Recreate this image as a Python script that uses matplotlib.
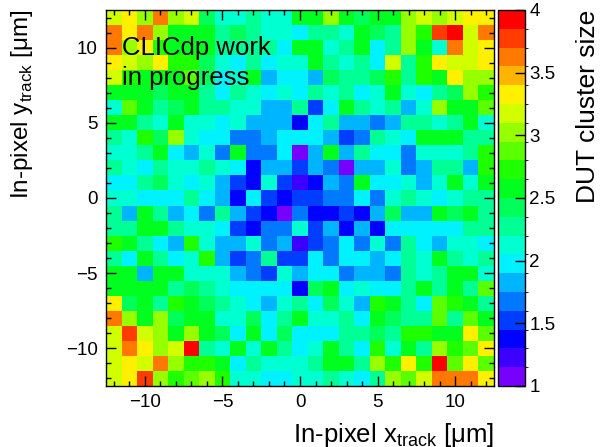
import numpy as np
import matplotlib
matplotlib.use("Agg")
import matplotlib.pyplot as plt
from matplotlib.colors import ListedColormap, BoundaryNorm, hsv_to_rgb
from matplotlib.ticker import MultipleLocator

# === data: mean DUT cluster size per 1x1 um bin, rows from y=+12 down to y=-12 ===
x_edges = np.arange(-12.5, 13.0, 1.0)
y_edges = np.arange(-12.5, 13.0, 1.0)
z_ticks = [1, 1.5, 2, 2.5, 3, 3.5, 4]

cluster_size = [
    [3.10, 3.30, 3.00, 3.60, 3.05, 3.10, 2.45, 2.10, 2.12, 2.30, 2.10, 2.10, 2.50, 2.50, 3.00, 2.55, 2.35, 2.50, 2.60, 3.00, 3.20, 2.95, 3.20, 3.30, 3.30],
    [3.60, 3.25, 3.60, 3.00, 2.60, 2.60, 2.50, 2.30, 2.40, 2.30, 2.12, 2.12, 1.97, 2.30, 2.30, 2.12, 2.50, 2.45, 2.30, 3.00, 2.70, 3.72, 3.92, 3.20, 3.60],
    [3.60, 3.05, 3.25, 2.75, 2.60, 2.60, 2.50, 2.30, 2.25, 2.30, 2.30, 1.97, 2.50, 2.50, 2.12, 2.30, 2.55, 1.97, 2.30, 3.00, 2.60, 2.12, 3.55, 3.20, 3.30],
    [3.35, 3.20, 2.95, 3.35, 2.75, 2.70, 2.35, 2.12, 1.97, 2.30, 1.97, 2.12, 2.12, 2.50, 2.30, 2.12, 2.30, 1.97, 3.20, 2.30, 2.70, 3.35, 3.20, 3.20, 3.30],
    [3.10, 2.70, 2.60, 2.50, 2.60, 2.85, 2.35, 1.97, 2.12, 2.60, 1.85, 1.97, 1.97, 1.82, 2.45, 2.30, 2.30, 2.45, 2.70, 2.30, 2.70, 2.60, 3.35, 3.00, 2.95],
    [2.50, 2.60, 2.60, 2.45, 2.60, 2.50, 2.30, 1.97, 2.30, 2.12, 1.97, 2.12, 1.97, 2.30, 2.12, 2.30, 1.97, 2.12, 2.55, 2.12, 1.97, 2.30, 2.42, 3.00, 2.70],
    [2.12, 2.85, 2.60, 2.30, 2.35, 2.50, 2.30, 2.30, 2.12, 2.12, 1.82, 1.82, 2.30, 1.50, 1.97, 2.50, 2.30, 2.12, 2.30, 1.82, 2.12, 3.00, 2.60, 2.60, 2.85],
    [2.50, 2.55, 2.30, 2.12, 2.60, 2.12, 2.12, 1.97, 2.12, 1.82, 1.82, 1.82, 1.35, 1.97, 2.30, 1.82, 1.80, 1.67, 1.82, 2.30, 2.30, 2.12, 2.30, 2.60, 2.12],
    [2.30, 2.12, 2.75, 2.45, 3.00, 2.12, 1.97, 1.97, 1.67, 1.67, 1.82, 1.97, 1.97, 1.97, 1.82, 1.52, 1.67, 2.30, 2.12, 1.97, 2.60, 2.60, 2.60, 2.30, 2.30],
    [2.12, 2.12, 2.30, 2.60, 1.97, 1.82, 2.12, 1.67, 2.50, 1.67, 1.67, 1.97, 1.10, 1.82, 2.60, 1.82, 2.30, 1.97, 1.97, 1.67, 2.12, 2.12, 2.12, 2.30, 2.70],
    [2.30, 2.12, 1.97, 2.30, 2.12, 2.12, 2.30, 2.12, 1.97, 1.37, 1.82, 1.82, 1.52, 1.82, 1.67, 1.10, 1.82, 1.82, 2.12, 1.67, 1.82, 2.30, 2.30, 1.82, 2.75],
    [1.97, 1.97, 2.30, 2.45, 2.12, 1.97, 2.12, 1.82, 1.50, 1.37, 2.12, 1.52, 1.22, 1.37, 1.82, 1.67, 2.50, 1.97, 1.97, 2.12, 1.82, 2.12, 2.60, 2.12, 2.50],
    [2.12, 2.12, 1.97, 1.97, 1.97, 2.30, 1.97, 1.82, 1.37, 1.97, 1.52, 1.37, 1.52, 1.52, 1.67, 1.67, 1.97, 1.67, 2.12, 2.30, 2.12, 1.97, 2.12, 2.30, 2.30],
    [2.30, 1.82, 2.50, 2.30, 1.82, 1.97, 1.67, 2.30, 1.82, 1.52, 1.37, 1.10, 1.67, 1.37, 1.37, 1.52, 1.37, 1.82, 2.35, 1.82, 1.82, 2.50, 2.42, 2.50, 2.30],
    [2.30, 2.30, 2.60, 2.50, 2.30, 2.12, 2.12, 1.97, 1.50, 1.37, 1.67, 1.67, 2.12, 1.52, 1.82, 1.37, 1.82, 1.37, 1.97, 1.97, 1.97, 1.97, 1.97, 2.30, 2.30],
    [2.70, 2.50, 2.30, 1.97, 1.82, 2.70, 2.12, 1.82, 1.82, 2.12, 1.67, 1.82, 1.22, 1.52, 1.67, 1.97, 1.67, 2.12, 1.67, 2.30, 1.97, 1.82, 2.12, 2.12, 1.97],
    [2.30, 1.97, 2.50, 2.30, 1.97, 2.12, 2.70, 1.82, 1.52, 1.67, 2.30, 1.52, 1.52, 1.97, 1.67, 1.97, 1.97, 1.82, 1.97, 2.30, 2.12, 2.60, 2.30, 2.12, 2.30],
    [2.60, 2.60, 1.82, 2.60, 2.50, 2.12, 2.12, 2.12, 1.82, 1.67, 1.52, 2.12, 1.82, 1.97, 1.97, 1.67, 1.82, 1.82, 1.67, 2.30, 2.12, 2.30, 2.50, 2.60, 2.12],
    [2.60, 2.60, 2.60, 2.60, 2.30, 2.42, 2.20, 2.12, 1.97, 1.97, 1.97, 1.97, 1.37, 2.42, 2.50, 1.97, 2.12, 1.97, 1.97, 2.30, 2.60, 2.30, 2.60, 2.30, 2.85],
    [3.35, 2.42, 2.60, 2.20, 2.70, 2.55, 2.42, 2.30, 2.12, 1.97, 1.82, 2.12, 2.30, 1.97, 2.35, 2.12, 1.82, 2.70, 2.60, 2.30, 1.97, 2.85, 2.70, 2.55, 2.30],
    [3.60, 3.05, 2.60, 3.00, 2.35, 2.55, 2.55, 2.12, 2.12, 2.35, 1.97, 2.30, 2.60, 2.12, 2.12, 2.30, 1.97, 2.60, 2.45, 2.30, 2.30, 2.85, 2.30, 2.85, 2.50],
    [3.20, 3.72, 3.20, 3.00, 2.60, 3.00, 2.55, 2.42, 1.97, 2.50, 1.97, 2.45, 1.97, 1.97, 1.97, 2.30, 2.30, 2.42, 2.30, 2.70, 2.70, 2.60, 2.60, 3.35, 2.85],
    [3.20, 3.60, 3.35, 3.00, 3.20, 3.92, 2.30, 2.12, 2.50, 2.12, 2.50, 2.30, 1.97, 2.12, 2.60, 2.30, 1.97, 2.70, 2.12, 2.60, 2.30, 3.05, 2.70, 2.85, 3.35],
    [3.20, 3.35, 3.20, 3.60, 3.05, 2.70, 2.70, 2.50, 1.97, 2.30, 2.12, 2.12, 2.12, 2.30, 2.50, 2.50, 2.30, 3.05, 2.70, 3.35, 2.70, 3.85, 2.85, 3.35, 2.85],
    [3.20, 3.35, 3.72, 3.05, 2.75, 2.85, 3.05, 2.75, 2.12, 2.12, 1.97, 1.97, 2.12, 2.12, 2.30, 2.12, 1.97, 2.30, 3.00, 2.85, 3.20, 3.60, 3.60, 3.60, 3.35],
]

# === ROOT-like rainbow palette, 20 contour levels ===
n_levels = 20
hues = np.linspace(268.0, 0.0, n_levels) / 360.0
palette = hsv_to_rgb(np.column_stack([hues, np.ones(n_levels), np.ones(n_levels)]))
cmap = ListedColormap(palette)
norm = BoundaryNorm(np.linspace(1, 4, n_levels + 1), cmap.N)

plt.rcParams['font.family'] = ['Liberation Sans', 'DejaVu Sans']
plt.rcParams['mathtext.fontset'] = 'custom'
plt.rcParams['mathtext.rm'] = 'Liberation Sans'

fig = plt.figure(figsize=(6.06, 4.47), dpi=100)
ax = fig.add_axes([106 / 606, 61 / 447, 388 / 606, 376 / 447])
cax = fig.add_axes([498 / 606, 61 / 447, 27 / 606, 376 / 447])

z = np.array(cluster_size)[::-1]
mesh = ax.pcolormesh(x_edges, y_edges, z, cmap=cmap, norm=norm)
ax.set_xlim(-12.5, 12.5)
ax.set_ylim(-12.5, 12.5)

for a in ("x", "y"):
    ax.tick_params(axis=a, which="both", direction="in", top=True, right=True, labelsize=13.5, pad=6)
ax.tick_params(which="major", length=7.5, width=1)
ax.tick_params(which="minor", length=3.8, width=1)
ax.xaxis.set_major_locator(MultipleLocator(5))
ax.yaxis.set_major_locator(MultipleLocator(5))
ax.xaxis.set_minor_locator(MultipleLocator(1))
ax.yaxis.set_minor_locator(MultipleLocator(1))
for s in ax.spines.values():
    s.set_linewidth(1)

cb = fig.colorbar(mesh, cax=cax, ticks=z_ticks)
cb.ax.set_yticklabels(["1", "1.5", "2", "2.5", "3", "3.5", "4"])
cb.ax.tick_params(direction="in", length=7.5, width=1, labelsize=13.5, pad=3)
cb.outline.set_linewidth(1)

ax.text(-11.5, 10.0, "CLICdp work", fontsize=18.5, va="center", ha="left")
ax.text(-11.5, 8.0, "in progress", fontsize=18.5, va="center", ha="left")

fig.text(494 / 606, 12 / 447, r"In-pixel x$_{\mathrm{track}}$ [μm]", fontsize=18.5, ha="right", va="center")
fig.text(22 / 606, 437 / 447, r"In-pixel y$_{\mathrm{track}}$ [μm]", fontsize=17.5, ha="center", va="top", rotation=90)
fig.text(588 / 606, 437 / 447, "DUT cluster size", fontsize=19, ha="center", va="top", rotation=90)

fig.savefig("out.png", dpi=100)
